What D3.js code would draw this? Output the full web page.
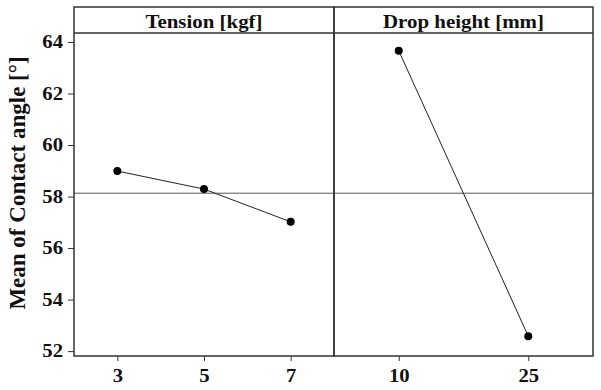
<!DOCTYPE html>
<html><head><meta charset="utf-8">
<script src="https://cdn.jsdelivr.net/npm/d3@7"></script>
<style>body{margin:0;background:#fff}</style>
</head><body>
<svg id="c" width="601" height="390"></svg>
<script>
const factors = ["Tension [kgf]", "Drop height [mm]"];
const tensionLevels = ["3", "5", "7"];
const tensionMeans = [58.99, 58.29, 57.02];
const dropLevels = ["10", "25"];
const dropMeans = [63.66, 52.58];
const grandMean = 58.13;
const yTicks = [52, 54, 56, 58, 60, 62, 64];
const yLabel = "Mean of Contact angle [°]";

(function () {
const svg = d3.select("#c");
const font = "'Liberation Serif','Times New Roman',serif";
const frameTop = 7, stripB = 33, bottom = 356;
const panelX = [[74, 334], [334, 593]];
const y = d3.scaleLinear().domain([51.81, 64.35]).range([bottom, stripB]);

const panels = [
  {title: factors[0], levels: tensionLevels, means: tensionMeans},
  {title: factors[1], levels: dropLevels, means: dropMeans}
];

svg.append("line").attr("x1", panelX[0][0]).attr("x2", panelX[1][1])
  .attr("y1", y(grandMean)).attr("y2", y(grandMean))
  .attr("stroke", "#555").attr("stroke-width", 1);

panels.forEach((p, i) => {
  const [x0, x1] = panelX[i];
  const x = d3.scalePoint().domain(p.levels).range([x0, x1]).padding(0.5);
  const g = svg.append("g");
  const ax = g.append("g").attr("transform", `translate(0,${bottom})`)
    .call(d3.axisBottom(x).tickSize(5).tickPadding(8));
  ax.select(".domain").remove();
  ax.selectAll("line").attr("stroke", "#333");
  ax.selectAll("text").attr("font-family", font).attr("font-weight", "bold")
    .attr("font-size", 18).attr("fill", "#111").attr("transform", "scale(1.15,1)");
  const data = p.levels.map((l, k) => [x(l), y(p.means[k])]);
  g.append("path").attr("d", d3.line()(data)).attr("fill", "none")
    .attr("stroke", "#222").attr("stroke-width", 1);
  g.selectAll("circle").data(data).join("circle")
    .attr("cx", d => d[0]).attr("cy", d => d[1]).attr("r", 4).attr("fill", "#000");
  g.append("rect").attr("x", x0).attr("y", frameTop).attr("width", x1 - x0).attr("height", bottom - frameTop)
    .attr("fill", "none").attr("stroke", "#333").attr("stroke-width", 1.5);
  g.append("line").attr("x1", x0).attr("x2", x1).attr("y1", stripB).attr("y2", stripB)
    .attr("stroke", "#333").attr("stroke-width", 1.5);
  g.append("text").attr("transform", `translate(${(x0 + x1) / 2},28) scale(1.1,1)`)
    .attr("text-anchor", "middle")
    .attr("font-family", font).attr("font-weight", "bold").attr("font-size", 19)
    .attr("fill", "#111").text(p.title);
});

const ay = svg.append("g").attr("transform", `translate(${panelX[0][0]},0)`)
  .call(d3.axisLeft(y).tickValues(yTicks).tickSize(6).tickPadding(5));
ay.select(".domain").remove();
ay.selectAll("line").attr("stroke", "#333");
ay.selectAll("text").attr("font-family", font).attr("font-weight", "bold")
  .attr("font-size", 18).attr("fill", "#111")
  .each(function () {
    const t = d3.select(this);
    const ty = +t.attr("dy") || 0;
    t.attr("transform", "scale(1.15,1)").attr("x", -11 / 1.15);
  });

svg.append("text").attr("transform", "translate(25,183) rotate(-90)")
  .attr("text-anchor", "middle").attr("font-family", font).attr("font-weight", "bold")
  .attr("font-size", 23).attr("fill", "#111").text(yLabel);
})();
</script>
</body></html>
